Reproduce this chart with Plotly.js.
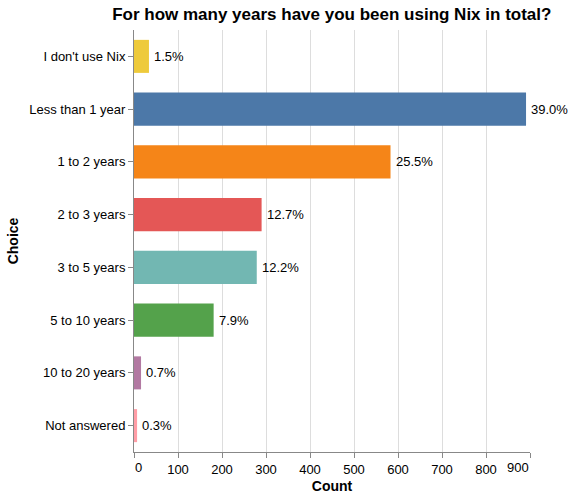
<!DOCTYPE html>
<html>
<head>
<meta charset="utf-8">
<script src="https://cdn.plot.ly/plotly-3.0.1.min.js"></script>
<style>html,body{margin:0;padding:0;background:#fff;}#chart{width:577px;height:500px;}</style>
</head>
<body>
<div id="chart"></div>
<script>
const categories = ["I don't use Nix", "Less than 1 year", "1 to 2 years", "2 to 3 years", "3 to 5 years", "5 to 10 years", "10 to 20 years", "Not answered"];
const counts = [34, 891, 583, 290, 279, 181, 16, 7];
const percentLabels = ["1.5%", "39.0%", "25.5%", "12.7%", "12.2%", "7.9%", "0.7%", "0.3%"];
const colors = ["#eeca3b", "#4c78a8", "#f58518", "#e45756", "#72b7b2", "#54a24b", "#b279a2", "#ff9da6"];
const xTicks = [0, 100, 200, 300, 400, 500, 600, 700, 800, 900];

const font = "Liberation Sans, Arial, Helvetica, sans-serif";
const xMin = xTicks[0], xMax = xTicks[xTicks.length - 1];

const trace = {
  type: 'bar',
  orientation: 'h',
  x: counts,
  y: categories,
  marker: {color: colors, line: {width: 0}},
  hoverinfo: 'x+y'
};

const annotations = categories.map((c, i) => ({
  x: counts[i], y: c, xref: 'x', yref: 'y',
  text: percentLabels[i], showarrow: false,
  xanchor: 'left', yanchor: 'middle', xshift: 3,
  font: {family: font, size: 13, color: '#000'}
}));
// flush first/last x tick labels like the reference
annotations.push({x: xMin, y: 0, xref: 'x', yref: 'paper', text: String(xMin), showarrow: false,
  xanchor: 'left', yanchor: 'top', xshift: -1, yshift: -6, font: {family: font, size: 13, color: '#000'}});
annotations.push({x: xMax, y: 0, xref: 'x', yref: 'paper', text: String(xMax), showarrow: false,
  xanchor: 'right', yanchor: 'top', xshift: 1, yshift: -6, font: {family: font, size: 13, color: '#000'}});

const layout = {
  width: 577, height: 500,
  margin: {l: 134, r: 47, t: 30, b: 48},
  paper_bgcolor: '#fff', plot_bgcolor: '#fff',
  bargap: 0.374,
  showlegend: false,
  title: {text: 'For how many years have you been using Nix in total?', font: {family: font, size: 17, color: '#000', weight: 'bold'}, x: 0.575, xanchor: 'center', y: 0.972, yanchor: 'middle'},
  xaxis: {
    range: [xMin, xMax], tickvals: xTicks, ticktext: xTicks.map((v, i) => (i === 0 || i === xTicks.length - 1) ? '' : String(v)),
    showgrid: true, gridcolor: '#dddddd', gridwidth: 1,
    zeroline: false, showline: true, linecolor: '#888888', linewidth: 1,
    ticks: 'outside', ticklen: 5, tickcolor: '#888888',
    tickfont: {family: font, size: 13, color: '#000'},
    title: {text: 'Count', font: {family: font, size: 14, color: '#000', weight: 'bold'}, standoff: 5},
    fixedrange: true
  },
  yaxis: {
    categoryorder: 'array', categoryarray: categories, autorange: 'reversed',
    showgrid: false, zeroline: false, showline: true, linecolor: '#888888', linewidth: 1,
    ticks: 'outside', ticklen: 5, tickcolor: '#888888',
    tickfont: {family: font, size: 13, color: '#000'},
    title: {text: 'Choice', font: {family: font, size: 14, color: '#000', weight: 'bold'}, standoff: 7},
    fixedrange: true
  },
  annotations: annotations
};

Plotly.newPlot('chart', [trace], layout, {displayModeBar: false, staticPlot: true});
</script>
</body>
</html>
